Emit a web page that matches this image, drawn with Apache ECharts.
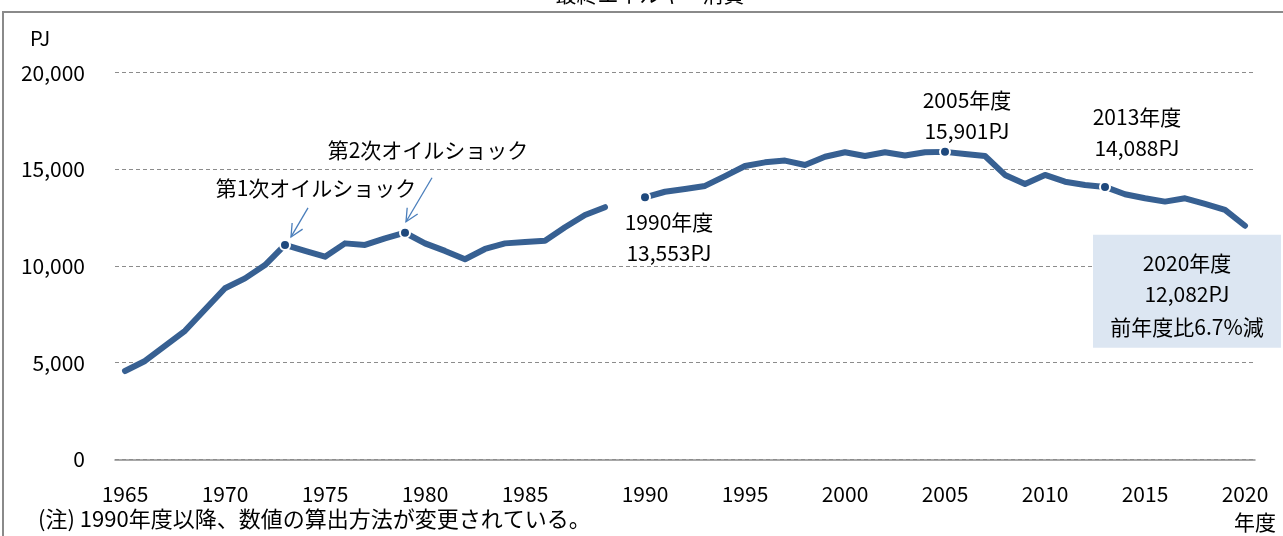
<!DOCTYPE html>
<html>
<head>
<meta charset="utf-8">
<script src="https://cdn.jsdelivr.net/npm/echarts@6/dist/echarts.min.js"></script>
<style>
html, body { margin: 0; padding: 0; background: #fff; }
#main { width: 1283px; height: 536px; }
</style>
</head>
<body>
<div id="main"></div>
<script>
// 旧算出方法 (1965-1989年度)
const oldYears = [1965, 1966, 1967, 1968, 1969, 1970, 1971, 1972, 1973, 1974,
  1975, 1976, 1977, 1978, 1979, 1980, 1981, 1982, 1983, 1984,
  1985, 1986, 1987, 1988, 1989];
const oldValues = [4570, 5090, 5870, 6650, 7750, 8850, 9360, 10050, 11090, 10780,
  10480, 11170, 11090, 11430, 11720, 11170, 10780, 10350, 10880, 11170,
  11240, 11310, 12000, 12640, 13040];
// 新算出方法 (1990-2020年度)
const newYears = [1990, 1991, 1992, 1993, 1994, 1995, 1996, 1997, 1998, 1999,
  2000, 2001, 2002, 2003, 2004, 2005, 2006, 2007, 2008, 2009,
  2010, 2011, 2012, 2013, 2014, 2015, 2016, 2017, 2018, 2019, 2020];
const newValues = [13553, 13840, 13980, 14140, 14650, 15170, 15360, 15450, 15220, 15650,
  15880, 15690, 15880, 15710, 15880, 15901, 15790, 15690, 14710, 14240,
  14710, 14360, 14190, 14088, 13710, 13500, 13330, 13500, 13210, 12900, 12082];
const yTicks = [0, 5000, 10000, 15000, 20000];
const markYears = [1973, 1979, 1990, 2005, 2013];
const labelYears = [1990, 2005, 2013];

// 1989と1990の間に空のカテゴリを1つ入れる
const categories = oldYears.map(String).concat([''], newYears.map(String));
const oldData = categories.map((c, i) => i < oldValues.length ? oldValues[i] : null);
const newData = categories.map((c, i) => i > oldValues.length ? newValues[i - oldValues.length - 1] : null);

function valueOf (year) {
  return year < 1990 ? oldValues[oldYears.indexOf(year)] : newValues[newYears.indexOf(year)];
}
function idx (year) {
  return categories.indexOf(String(year));
}
function fmt (v) {
  return v.toLocaleString('en-US');
}

const FONT = '"Noto Sans CJK JP", "Noto Sans", sans-serif';
const LINE = '#376092';
const DOT = '#1F497D';

const labelOffset = { 1990: [24, 40], 2005: [22, -36], 2013: [32, -54] };

const chart = echarts.init(document.getElementById('main'));
const option = {
  animation: false,
  textStyle: { fontFamily: FONT },
  grid: { left: 115, right: 28, top: 72.6, bottom: 76.6 },
  xAxis: {
    type: 'category',
    data: categories,
    boundaryGap: true,
    axisTick: { show: false },
    axisLine: { show: true, lineStyle: { color: '#8c8c8c', width: 1.5 } },
    axisLabel: {
      color: '#000',
      fontSize: 21,
      margin: 24,
      fontFamily: FONT,
      interval: (i, v) => v !== '' && Number(v) % 5 === 0
    }
  },
  yAxis: {
    type: 'value',
    min: yTicks[0],
    max: yTicks[yTicks.length - 1],
    interval: yTicks[1] - yTicks[0],
    axisLine: { show: false },
    axisTick: { show: false },
    axisLabel: {
      color: '#000',
      fontSize: 21,
      margin: 30,
      fontFamily: FONT,
      formatter: v => fmt(v)
    },
    splitLine: {
      show: true,
      lineStyle: { color: '#8c8c8c', width: 1, type: [4, 3] }
    }
  },
  series: [
    {
      type: 'line',
      data: oldData,
      symbol: 'none',
      connectNulls: false,
      lineStyle: { color: LINE, width: 6, cap: 'round', join: 'round' },
      z: 2
    },
    {
      type: 'line',
      data: newData,
      symbol: 'none',
      connectNulls: false,
      lineStyle: { color: LINE, width: 6, cap: 'round', join: 'round' },
      z: 2
    },
    {
      type: 'scatter',
      symbolSize: 10,
      itemStyle: { color: DOT, borderColor: '#fff', borderWidth: 2, opacity: 1 },
      z: 3,
      data: markYears.map(y => {
        const item = { value: [idx(y), valueOf(y)] };
        if (labelYears.indexOf(y) >= 0) {
          item.label = {
            show: true,
            position: 'inside',
            offset: labelOffset[y],
            formatter: y + '年度\n' + fmt(valueOf(y)) + 'PJ',
            color: '#000',
            textBorderWidth: 0,
            fontSize: 21,
            lineHeight: 31,
            align: 'center',
            fontFamily: FONT
          };
        }
        return item;
      })
    }
  ]
};
chart.setOption(option);

function px (year) {
  return chart.convertToPixel({ gridIndex: 0 }, [idx(year), valueOf(year)]);
}

function arrow (from, to) {
  const ang = Math.atan2(to[1] - from[1], to[0] - from[0]);
  const len = 14;
  const spread = Math.PI / 7;
  const a1 = [to[0] - len * Math.cos(ang - spread), to[1] - len * Math.sin(ang - spread)];
  const a2 = [to[0] - len * Math.cos(ang + spread), to[1] - len * Math.sin(ang + spread)];
  return [
    { type: 'line', z: 20, shape: { x1: from[0], y1: from[1], x2: to[0], y2: to[1] }, style: { stroke: '#4A7EBB', lineWidth: 1.3 } },
    { type: 'polyline', z: 20, shape: { points: [a1, to, a2] }, style: { stroke: '#4A7EBB', lineWidth: 1.3, fill: null } }
  ];
}

function text (x, y, str, extra) {
  return Object.assign({
    type: 'text',
    z: 20,
    style: {
      x: x, y: y, text: str, fill: '#000',
      font: '21px ' + FONT,
      align: 'center', verticalAlign: 'middle'
    }
  }, extra || {});
}

const p73 = px(1973);
const p79 = px(1979);
const p20 = px(2020);

const graphic = [
  // 外枠
  { type: 'rect', z: 0, shape: { x: 3, y: 12, width: 1300, height: 600 }, style: { fill: null, stroke: '#8a8a8a', lineWidth: 2 } },
  text(650, -6, '最終エネルギー消費'),
  { type: 'text', z: 20, style: { x: 30, y: 38, text: 'PJ', fill: '#000', font: '20px ' + FONT, align: 'left', verticalAlign: 'middle' } },
  text(1255, 522, '年度'),
  { type: 'text', z: 20, style: { x: 38, y: 519, text: '(注) 1990年度以降、数値の算出方法が変更されている。', fill: '#000', font: '22px ' + FONT, align: 'left', verticalAlign: 'middle' } },
  text(p73[0] + 31, p73[1] - 57, '第1次オイルショック'),
  text(p79[0] + 23, p79[1] - 83, '第2次オイルショック'),
  // 2020年度ボックス
  { type: 'rect', z: 15, shape: { x: p20[0] - 152, y: p20[1] + 9, width: 188, height: 113 }, style: { fill: '#DCE6F2' } },
  text(p20[0] - 58, p20[1] + 37, '2020年度'),
  text(p20[0] - 58, p20[1] + 68, fmt(valueOf(2020)) + 'PJ'),
  text(p20[0] - 58, p20[1] + 101, '前年度比6.7%減')
].concat(
  arrow([p73[0] + 23, p73[1] - 37], [p73[0] + 6, p73[1] - 8]),
  arrow([p79[0] + 27, p79[1] - 55], [p79[0] + 1, p79[1] - 11])
);

chart.setOption({ graphic: graphic });
</script>
</body>
</html>
